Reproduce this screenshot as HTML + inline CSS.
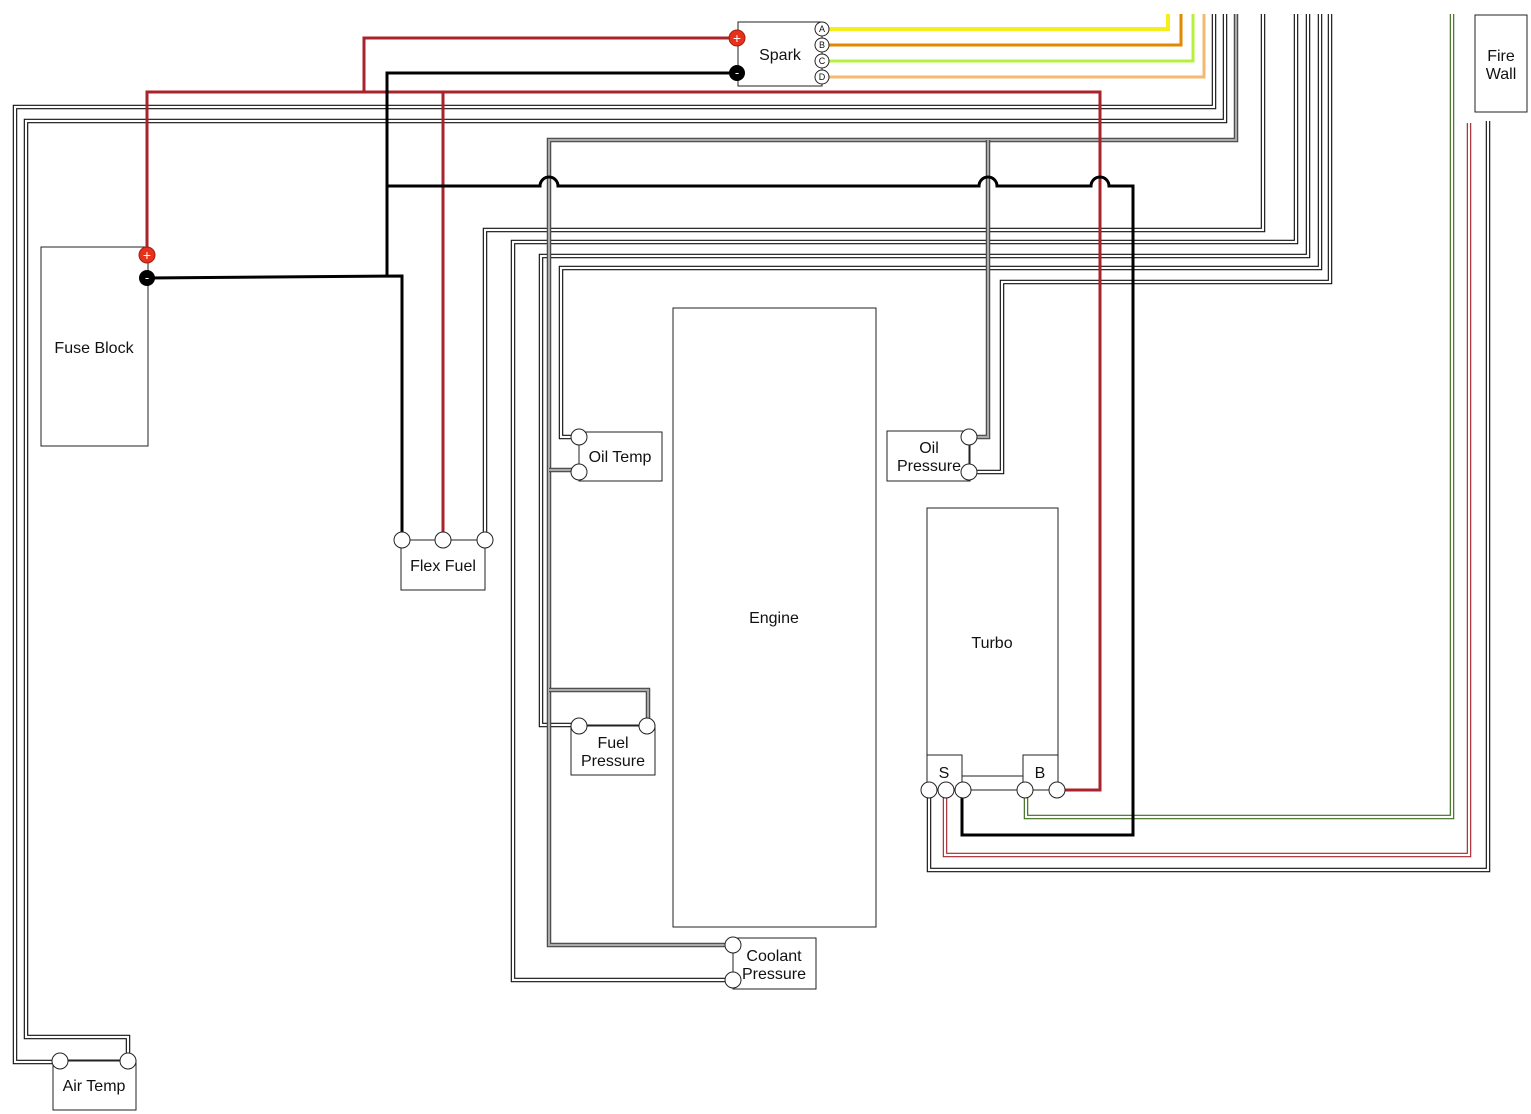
<!DOCTYPE html>
<html><head><meta charset="utf-8"><style>
html,body{margin:0;padding:0;background:#fff;}
svg{display:block;}
text{font-family:"Liberation Sans",sans-serif;font-size:16px;fill:#111;}
.box{fill:#fff;stroke:#222;stroke-width:1;}
.wo{fill:none;stroke:#111;stroke-width:4.5;stroke-linejoin:miter;}
.wi{fill:none;stroke:#fff;stroke-width:2.2;}
.go{fill:none;stroke:#444;stroke-width:4.5;}
.gi{fill:none;stroke:#aaa;stroke-width:2.2;}
.red{fill:none;stroke:#a8232b;stroke-width:3;}
.blk{fill:none;stroke:#000;stroke-width:3;}
.pin{fill:#fff;stroke:#222;stroke-width:1;}
</style></head><body>
<svg width="1531" height="1114" viewBox="0 0 1531 1114" xmlns="http://www.w3.org/2000/svg">
<rect class="box" x="41" y="247" width="107" height="199"/>
<text x="94" y="353" text-anchor="middle">Fuse Block</text>
<rect class="box" x="673" y="308" width="203" height="619"/>
<text x="774" y="623" text-anchor="middle">Engine</text>
<rect class="box" x="927" y="508" width="131" height="282"/>
<text x="992" y="648" text-anchor="middle">Turbo</text>
<rect class="box" x="927" y="755" width="35" height="35"/>
<text x="944" y="778" text-anchor="middle">S</text>
<rect class="box" x="1023" y="755" width="35" height="35"/>
<text x="1040" y="778" text-anchor="middle">B</text>
<line x1="962" y1="776" x2="1023" y2="776" stroke="#222"/>
<rect class="box" x="1475" y="15" width="52" height="97"/>
<text x="1501" y="61" text-anchor="middle">Fire</text>
<text x="1501" y="79" text-anchor="middle">Wall</text>
<rect class="box" x="738" y="22" width="84" height="64"/>
<text x="780" y="60" text-anchor="middle">Spark</text>

<polyline points="829,29 1168,29 1168,14" fill="none" stroke="#f5ee1a" stroke-width="4"/>
<polyline points="829,45 1181,45 1181,14" fill="none" stroke="#e08a00" stroke-width="3"/>
<polyline points="829,61 1193,61 1193,14" fill="none" stroke="#b6f03a" stroke-width="3"/>
<polyline points="829,77 1204,77 1204,14" fill="none" stroke="#f5b870" stroke-width="3"/>

<g>
<polyline class="wo" points="1214,14 1214,107 15,107 15,1062 60,1062"/>
<polyline class="wi" points="1214,14 1214,107 15,107 15,1062 60,1062"/>
<polyline class="wo" points="1225,14 1225,121 26,121 26,1037 128,1037 128,1061"/>
<polyline class="wi" points="1225,14 1225,121 26,121 26,1037 128,1037 128,1061"/>
<polyline class="wo" points="1263,14 1263,230 485,230 485,540"/>
<polyline class="wi" points="1263,14 1263,230 485,230 485,540"/>
<polyline class="wo" points="1296,14 1296,242 513,242 513,980 733,980"/>
<polyline class="wi" points="1296,14 1296,242 513,242 513,980 733,980"/>
<polyline class="wo" points="1308,14 1308,256 541,256 541,725 579,725"/>
<polyline class="wi" points="1308,14 1308,256 541,256 541,725 579,725"/>
<polyline class="wo" points="1320,14 1320,268 561,268 561,437 579,437"/>
<polyline class="wi" points="1320,14 1320,268 561,268 561,437 579,437"/>
<polyline class="wo" points="1330,14 1330,282 1002,282 1002,472 969,472"/>
<polyline class="wi" points="1330,14 1330,282 1002,282 1002,472 969,472"/>
<polyline class="wo" points="1488,121 1488,870 929,870 929,790"/>
<polyline class="wi" points="1488,121 1488,870 929,870 929,790"/>
<polyline fill="none" stroke="#3a6b1a" stroke-width="4.5" points="1452,14 1452,817 1026,817 1026,790"/>
<polyline class="wi" points="1452,14 1452,817 1026,817 1026,790"/>
<polyline fill="none" stroke="#a8232b" stroke-width="4.5" points="1469,123 1469,855 945,855 945,790"/>
<polyline class="wi" points="1469,123 1469,855 945,855 945,790"/>
</g>
<g>
<polyline class="go" points="1236,14 1236,140 549,140 549,945 733,945"/>
<polyline class="gi" points="1236,14 1236,140 549,140 549,945 733,945"/>
<polyline class="go" points="988,140 988,437 969,437"/>
<polyline class="gi" points="988,140 988,437 969,437"/>
<polyline class="go" points="549,690 648,690 648,726"/>
<polyline class="gi" points="549,690 648,690 648,726"/>
<polyline class="go" points="549,470 579,470"/>
<polyline class="gi" points="549,470 579,470"/>
</g>
<polyline class="red" points="737,38 364,38 364,92 147,92 147,255"/>
<polyline class="red" points="364,92 1100,92 1100,790 1057,790"/>
<polyline class="red" points="443,92 443,540"/>
<polyline class="blk" points="737,73 387,73 387,276"/>
<polyline class="blk" points="147,278 402,276 402,540"/>
<path class="blk" d="M387,186 L540,186 A9,9 0 0 1 558,186 L979,186 A9,9 0 0 1 997,186 L1091,186 A9,9 0 0 1 1109,186 L1133,186 L1133,835 L962,835 L962,790"/>

<rect class="box" x="401" y="540" width="84" height="50"/>
<text x="443" y="571" text-anchor="middle">Flex Fuel</text>
<rect class="box" x="579" y="432" width="83" height="49"/>
<text x="620" y="462" text-anchor="middle">Oil Temp</text>
<line x1="579" y1="437" x2="579" y2="472" stroke="#222"/>
<rect class="box" x="887" y="431" width="83" height="50"/>
<text x="929" y="453" text-anchor="middle">Oil</text>
<text x="929" y="471" text-anchor="middle">Pressure</text>
<line x1="969" y1="437" x2="969" y2="472" stroke="#222"/>
<rect class="box" x="571" y="725" width="84" height="50"/>
<text x="613" y="748" text-anchor="middle">Fuel</text>
<text x="613" y="766" text-anchor="middle">Pressure</text>
<line x1="579" y1="726" x2="647" y2="726" stroke="#222"/>
<rect class="box" x="733" y="938" width="83" height="51"/>
<text x="774" y="961" text-anchor="middle">Coolant</text>
<text x="774" y="979" text-anchor="middle">Pressure</text>
<line x1="733" y1="945" x2="733" y2="980" stroke="#222"/>
<rect class="box" x="53" y="1060" width="83" height="50"/>
<text x="94" y="1091" text-anchor="middle">Air Temp</text>
<line x1="60" y1="1061" x2="128" y2="1061" stroke="#222"/>
<line x1="402" y1="540" x2="485" y2="540" stroke="#222"/>
<line x1="1025" y1="790" x2="1057" y2="790" stroke="#222"/>

<g class="pin">
<circle cx="402" cy="540" r="8"/><circle cx="443" cy="540" r="8"/><circle cx="485" cy="540" r="8"/>
<circle cx="579" cy="437" r="8"/><circle cx="579" cy="472" r="8"/>
<circle cx="969" cy="437" r="8"/><circle cx="969" cy="472" r="8"/>
<circle cx="579" cy="726" r="8"/><circle cx="647" cy="726" r="8"/>
<circle cx="733" cy="945" r="8"/><circle cx="733" cy="980" r="8"/>
<circle cx="60" cy="1061" r="8"/><circle cx="128" cy="1061" r="8"/>
<circle cx="929" cy="790" r="8"/><circle cx="946" cy="790" r="8"/><circle cx="963" cy="790" r="8"/>
<circle cx="1025" cy="790" r="8"/><circle cx="1057" cy="790" r="8"/>
<circle cx="822" cy="29" r="7"/><circle cx="822" cy="45" r="7"/><circle cx="822" cy="61" r="7"/><circle cx="822" cy="77" r="7"/>
</g>
<g text-anchor="middle">
<text x="822" y="32" style="font-size:9px">A</text><text x="822" y="48" style="font-size:9px">B</text>
<text x="822" y="64" style="font-size:9px">C</text><text x="822" y="80" style="font-size:9px">D</text>
</g>
<circle cx="737" cy="38" r="8" fill="#e8301a" stroke="#a02010"/>
<text x="737" y="43" text-anchor="middle" style="fill:#fff;font-size:14px">+</text>
<circle cx="737" cy="73" r="8" fill="#000"/>
<text x="737" y="77" text-anchor="middle" style="fill:#fff;font-size:13px">-</text>
<circle cx="147" cy="255" r="8" fill="#e8301a" stroke="#a02010"/>
<text x="147" y="260" text-anchor="middle" style="fill:#fff;font-size:14px">+</text>
<circle cx="147" cy="278" r="8" fill="#000"/>
<text x="147" y="282" text-anchor="middle" style="fill:#fff;font-size:13px">-</text>
</svg>
</body></html>
